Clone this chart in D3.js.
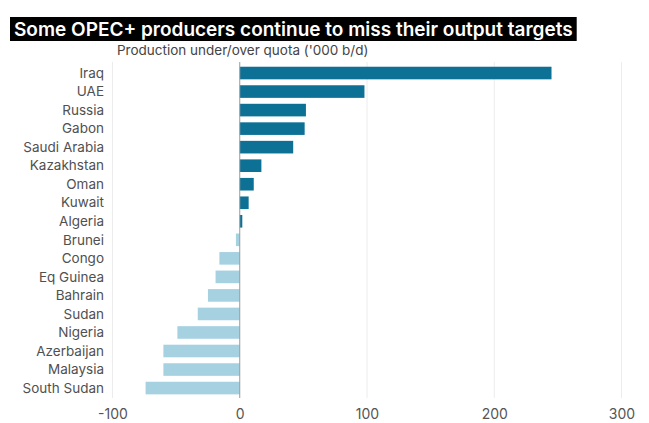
<!DOCTYPE html>
<html>
<head>
<meta charset="utf-8">
<script src="https://cdn.jsdelivr.net/npm/d3@7"></script>
<style>
  body { margin: 0; background: #fff; }
  text { font-family: Inter, Roboto, sans-serif; }
</style>
</head>
<body>
<div id="chart"></div>
<script>
const width = 649;
const height = 423;

// data
const countries = ["Iraq", "UAE", "Russia", "Gabon", "Saudi Arabia", "Kazakhstan", "Oman", "Kuwait", "Algeria",
                   "Brunei", "Congo", "Eq Guinea", "Bahrain", "Sudan", "Nigeria", "Azerbaijan", "Malaysia", "South Sudan"];
const values = [245, 98, 52, 51, 42, 17, 11, 7, 2,
                -3, -16, -19, -25, -33, -49, -60, -60, -74];
const ticks = [-100, 0, 100, 200, 300];

const title = "Some OPEC+ producers continue to miss their output targets";
const subtitle = "Production under/over quota ('000 b/d)";

const colorPos = "#0d7196";
const colorNeg = "#a6d1e1";

const data = countries.map((c, i) => ({country: c, value: values[i]}));

const svg = d3.select("#chart")
              .append("svg")
              .attr("width", width)
              .attr("height", height);

const x = d3.scaleLinear()
            .domain([-100, 300])
            .range([112.5, 621.5]);

const y = d3.scaleBand()
            .domain(countries)
            .range([60.8, 400.3])
            .padding(0.32);

const gridTop = 62, gridBottom = 398;

// gridlines
svg.append("g")
   .selectAll("line")
   .data(ticks.filter(t => t !== 0))
   .join("line")
   .attr("x1", d => x(d)).attr("x2", d => x(d))
   .attr("y1", gridTop).attr("y2", gridBottom)
   .attr("stroke", "#ececec")
   .attr("stroke-width", 1);

// bars
svg.append("g")
   .selectAll("rect")
   .data(data)
   .join("rect")
   .attr("x", d => x(Math.min(0, d.value)))
   .attr("width", d => Math.abs(x(d.value) - x(0)))
   .attr("y", d => y(d.country))
   .attr("height", y.bandwidth())
   .attr("fill", d => d.value >= 0 ? colorPos : colorNeg);

// zero line
svg.append("line")
   .attr("x1", x(0)).attr("x2", x(0))
   .attr("y1", gridTop).attr("y2", gridBottom)
   .attr("stroke", "#9a9a9a")
   .attr("stroke-width", 1);

// country labels
svg.append("g")
   .selectAll("text")
   .data(countries)
   .join("text")
   .attr("x", 104)
   .attr("y", d => y(d) + y.bandwidth() / 2)
   .attr("dy", "0.35em")
   .attr("text-anchor", "end")
   .attr("font-size", 13.5)
   .attr("fill", "#505050")
   .text(d => d);

// x axis
const xAxis = svg.append("g")
   .attr("transform", `translate(0,${gridBottom})`)
   .call(d3.axisBottom(x).tickValues(ticks).tickSize(0).tickPadding(11).tickFormat(d => String(d)));
xAxis.select(".domain").remove();
xAxis.selectAll("text")
     .attr("font-size", 14)
     .attr("font-family", "Inter, Roboto, sans-serif")
     .attr("fill", "#555");

// title block
const titleBox = svg.append("rect")
   .attr("x", 10)
   .attr("y", 17)
   .attr("height", 24)
   .attr("fill", "#000");
const titleText = svg.append("text")
   .attr("x", 14)
   .attr("y", 35.5)
   .attr("font-size", 19)
   .attr("font-weight", "600")
   .attr("fill", "#fff")
   .text(title);
titleBox.attr("width", titleText.node().getBBox().width + 8);

svg.append("text")
   .attr("x", 117)
   .attr("y", 55)
   .attr("font-size", 13.5)
   .attr("fill", "#444")
   .text(subtitle);
</script>
</body>
</html>
